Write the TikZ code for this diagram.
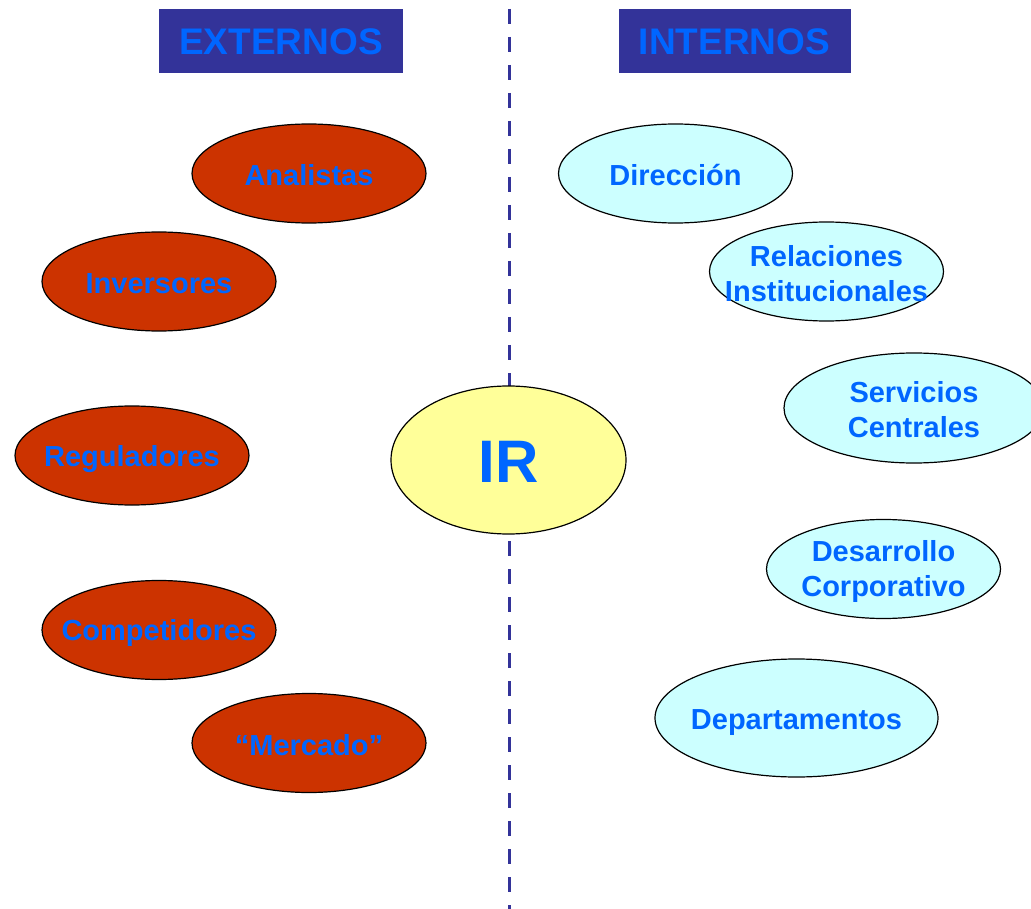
\documentclass[tikz,border=0pt]{standalone}
\usepackage{fontspec}
\setmainfont{Liberation Sans}
\usepackage{tikz}
\usetikzlibrary{%
  shapes, shapes.geometric, positioning, calc
}
\usepackage{xcolor}
\definecolor{hdBlue}{HTML}{333399}
\definecolor{txtBlue}{HTML}{0066FF}
\definecolor{extRed}{HTML}{CC3300}
\definecolor{intCyan}{HTML}{CCFFFF}
\definecolor{irYellow}{HTML}{FFFF99}
\tikzstyle{enode} = [%
  ellipse,
  draw=black,
  line width=1.2pt,
  minimum width=234pt,
  minimum height=99pt,
  inner sep=0pt,
  fill=extRed
]
\tikzstyle{inode} = [enode, fill=intCyan]

\begin{document}
\begin{tikzpicture}[%
  x=1pt, y=-1pt,
  every label/.style={%
    font=\bfseries\fontsize{29}{35}\selectfont,
    text=txtBlue,
    text centered,
    align=center,
    inner sep=0pt,
    yshift=-2pt
  },
  header/.style={%
    fill=hdBlue,
    minimum height=64pt,
    inner sep=0pt,
    text=txtBlue,
    font=\bfseries\fontsize{37}{44}\selectfont
  },
  divider/.style={%
    draw=hdBlue,
    line width=3pt,
    dash pattern=on 15pt off 13pt
  }
]
  \useasboundingbox[fill=white] (0,0) rectangle (1031,909);

  % Divider
  \coordinate (divtop) at (509.5,9);
  \coordinate (divbot) at (509.5,909);
  \draw[divider] (divtop) -- (divbot);

  % Headers
  \node[header,minimum width=244pt] (HExt) at (281,41.5) {EXTERNOS};
  \node[header,minimum width=232pt] (HInt) at (734.5,41.5) {INTERNOS};

  % Centre
  \node[enode,fill=irYellow,minimum width=235pt,minimum height=148pt,
    label={[font=\bfseries\fontsize{60}{72}\selectfont]center:IR}] (IR) at (508.5,460) {};

  % Externos
  \node[enode,label={center:Analistas}] (Ana) at (309,173.5) {};
  \node[enode,label={center:Inversores}] (Inv) at (159,281.5) {};
  \node[enode,label={[yshift=-2pt]center:Reguladores}] (Reg) at (132,455.5) {};
  \node[enode,label={[yshift=-1pt]center:Competidores}] (Com) at (159,630) {};
  \node[enode,label={center:“Mercado”}] (Mer) at (309,743) {};

  % Internos
  \node[inode,label={center:Dirección}] (Dir) at (675.5,173.5) {};
  \node[inode,label={center:Relaciones\\Institucionales}] (Rel) at (826.5,271.5) {};
  \node[inode,minimum width=260pt,minimum height=110pt,label={center:Servicios\\Centrales}] (Ser) at (914,408) {};
  \node[inode,label={center:Desarrollo\\Corporativo}] (Des) at (883.5,569) {};
  \node[inode,minimum width=283pt,minimum height=118pt,label={[yshift=-3pt]center:Departamentos}] (Dep) at (796.5,718) {};

\end{tikzpicture}
\end{document}
